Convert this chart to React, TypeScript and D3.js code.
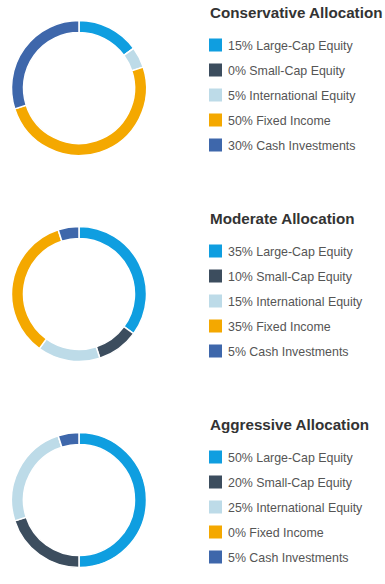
import React, { useEffect, useRef } from 'react';
import * as d3 from 'd3';

// Asset classes, in the order they run clockwise from 12 o'clock
const assetClasses = ['Large-Cap Equity', 'Small-Cap Equity', 'International Equity', 'Fixed Income', 'Cash Investments'];
const assetColors = ['#0f9ee0', '#3c4d5e', '#bddbe8', '#f4a800', '#3e67ab'];

const portfolios = ['Conservative Allocation', 'Moderate Allocation', 'Aggressive Allocation'];
const conservative = [15, 0, 5, 50, 30];
const moderate = [35, 10, 15, 35, 5];
const aggressive = [50, 20, 25, 0, 5];

const W = 385;
const H = 584;

const App = () => {
  const ref = useRef<SVGSVGElement>(null);

  useEffect(() => {
    const svg = d3.select(ref.current);
    svg.selectAll('*').remove();

    const allValues = [conservative, moderate, aggressive];
    const color = d3.scaleOrdinal<string, string>().domain(assetClasses).range(assetColors);

    // one row per portfolio
    const row = d3.scaleBand<string>().domain(portfolios).range([-15, 603]);

    const pie = d3.pie<number>().sort(null).value(d => d);
    const arc = d3.arc<d3.PieArcDatum<number>>().innerRadius(55.5).outerRadius(67.5);

    portfolios.forEach((name, i) => {
      const values = allValues[i];
      const cy = (row(name) as number) + row.bandwidth() / 2;
      const g = svg.append('g');

      // donut
      g.append('g')
        .attr('transform', `translate(79,${cy})`)
        .selectAll('path')
        .data(pie(values))
        .join('path')
        .attr('d', arc)
        .attr('fill', (d, j) => color(assetClasses[j]))
        .attr('stroke', '#fff')
        .attr('stroke-width', 1.5);

      // title
      g.append('text')
        .attr('x', 210)
        .attr('y', cy - 70)
        .attr('font-family', 'Arial, "Liberation Sans", sans-serif')
        .attr('font-size', 15.2)
        .attr('font-weight', 'bold')
        .attr('fill', '#333')
        .text(name);

      // legend
      const legend = g.append('g')
        .selectAll('g')
        .data(assetClasses)
        .join('g')
        .attr('transform', (d, j) => `translate(209,${cy - 43 + j * 25})`);

      legend.append('rect')
        .attr('x', 0)
        .attr('y', -6.5)
        .attr('width', 13)
        .attr('height', 13)
        .attr('fill', d => color(d));

      legend.append('text')
        .attr('x', 19)
        .attr('y', 4.5)
        .attr('font-family', 'Arial, "Liberation Sans", sans-serif')
        .attr('font-size', 12.4)
        .attr('fill', '#555')
        .text((d, j) => `${values[j]}% ${d}`);
    });
  }, []);

  return (
    <svg ref={ref} width={W} height={H} style={{ position: 'absolute', left: 0, top: 0, background: '#fff' }}></svg>
  );
};

export default App;
